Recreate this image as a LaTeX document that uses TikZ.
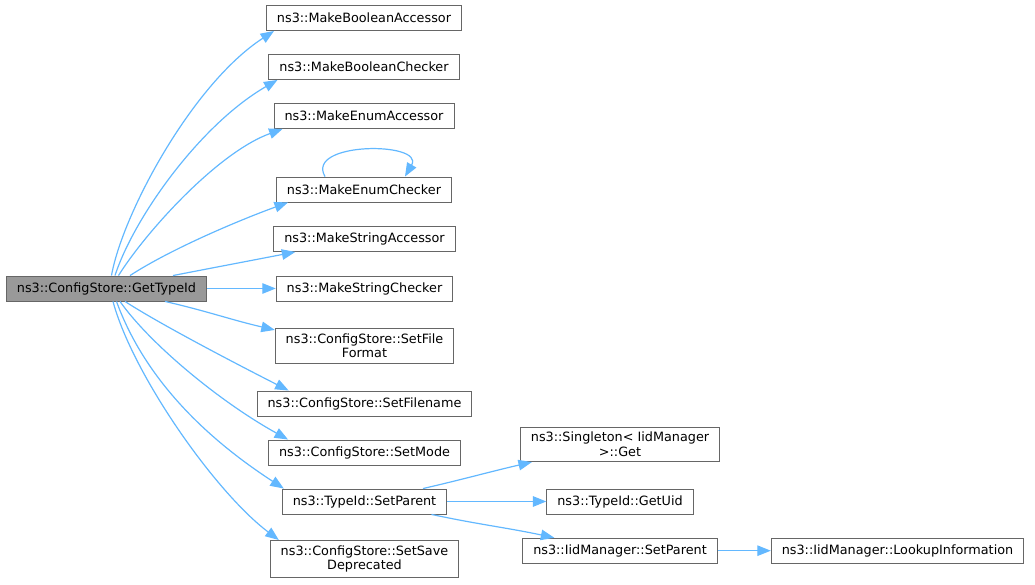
\documentclass[tikz,border=0pt]{standalone}
\usepackage{fontspec}
\setmainfont{DejaVu Sans}
\usetikzlibrary{arrows.meta}
\definecolor{callblue}{HTML}{63B8FF}
\definecolor{boxgray}{HTML}{666666}
\definecolor{mainfill}{HTML}{999999}
\tikzset{
  func/.style={draw=boxgray, fill=white, line width=0.9pt, inner xsep=10.5pt,
    inner ysep=5pt, minimum height=25pt, align=center,
    font=\fontsize{12.8}{14.7}\selectfont},
  mainfunc/.style={func, fill=mainfill},
  call/.style={color=callblue, line width=1.2pt}
}
\begin{document}
\begin{tikzpicture}[x=1pt, y=1pt, >={Triangle[length=13.5pt,width=10.5pt]}]
\useasboundingbox (0,0) rectangle (1035,585);
% Nodes of call graph
\node [mainfunc] (gid) at (106.5,296.5) {ns3::ConfigStore::GetTypeId};
\node [func] (mba) at (364,567) {ns3::MakeBooleanAccessor};
\node [func] (mbc) at (364,518) {ns3::MakeBooleanChecker};
\node [func] (mea) at (364,469) {ns3::MakeEnumAccessor};
\node [func] (mec) at (364,395.5) {ns3::MakeEnumChecker};
\node [func] (msa) at (364.5,346) {ns3::MakeStringAccessor};
\node [func] (msc) at (364.5,296.5) {ns3::MakeStringChecker};
\node [func] (sff) at (364.5,239.3) {ns3::ConfigStore::SetFile\\Format};
\node [func] (sfn) at (364.5,181.5) {ns3::ConfigStore::SetFilename};
\node [func] (smd) at (364.5,132.5) {ns3::ConfigStore::SetMode};
\node [func] (tsp) at (364.5,83.5) {ns3::TypeId::SetParent};
\node [func] (ssd) at (364.5,26) {ns3::ConfigStore::SetSave\\Deprecated};
\node [func] (sig) at (620,140.7) {ns3::Singleton< IidManager\\>::Get};
\node [func] (uid) at (620,83.5) {ns3::TypeId::GetUid};
\node [func] (ims) at (620,34.3) {ns3::IidManager::SetParent};
\node [func] (lki) at (897.5,34.3) {ns3::IidManager::LookupInformation};
% edges of call graph
\path[->, call]
([xshift=5pt]gid.north) edge [out=80, in=213, out distance=62pt, in distance=98pt] ([xshift=8pt]mba.south west)
([xshift=8.5pt]gid.north) edge [out=72, in=210, out distance=60pt, in distance=90pt] ([xshift=9pt]mbc.south west)
([xshift=12pt]gid.north) edge [out=58, in=200, out distance=50pt, in distance=70pt] ([xshift=9pt]mea.south west)
([xshift=23.5pt]gid.north) edge [out=33, in=200, out distance=50pt, in distance=50pt] ([xshift=12pt]mec.south west)
([xshift=66.5pt]gid.north) edge [out=11, in=191] ([xshift=22pt]msa.south west)
(gid) edge (msc)
([xshift=58.5pt]gid.south) edge [out=-13, in=167] ([yshift=-2pt]sff.north west)
([xshift=18.5pt]gid.south) edge [out=-33, in=153, out distance=45pt, in distance=45pt] ([xshift=32pt]sfn.north west)
([xshift=13.5pt]gid.south) edge [out=-55, in=151, out distance=50pt, in distance=80pt] ([xshift=20pt]smd.north west)
([xshift=10pt]gid.south) edge [out=-70, in=147, out distance=70pt, in distance=110pt] ([xshift=2pt]tsp.north west)
([xshift=6.5pt]gid.south) edge [out=-75, in=143, out distance=75pt, in distance=80pt] ([xshift=9pt]ssd.north west)
([xshift=-39pt]mec.north) edge [out=120, in=60, looseness=1.3] ([xshift=41pt]mec.north)
([xshift=58.5pt]tsp.north) edge [out=13, in=193] ([xshift=12pt]sig.south west)
(tsp) edge (uid)
([xshift=67pt]tsp.south) edge [out=-12, in=168] ([xshift=32pt]ims.north west)
(ims) edge (lki)
;
\end{tikzpicture}
\end{document}
